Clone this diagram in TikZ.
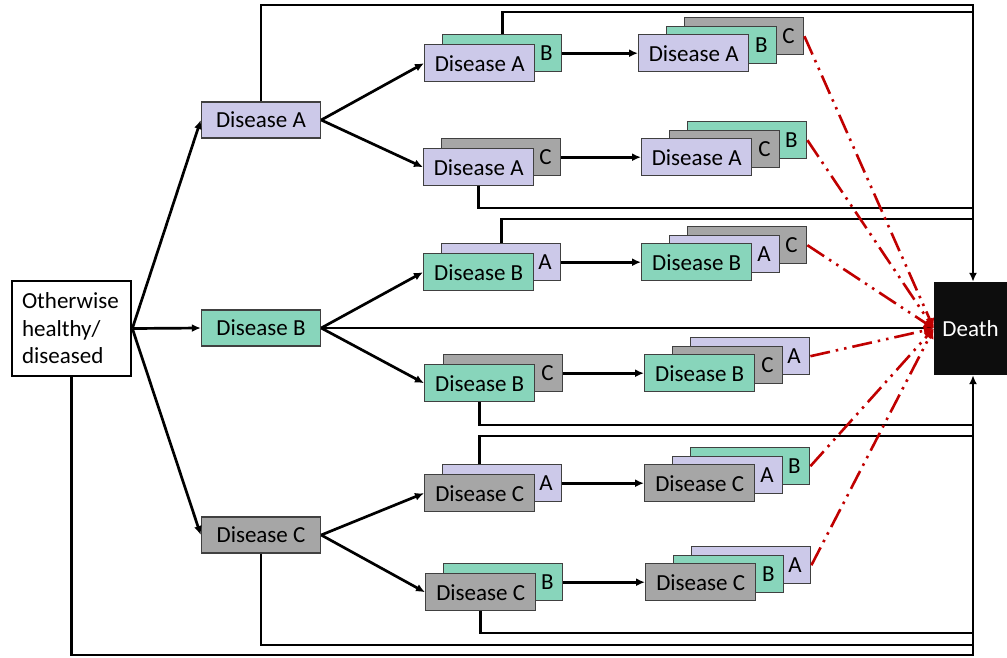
\documentclass[tikz,border=0pt]{standalone}
\usepackage{fontspec}
\setmainfont{Carlito}
\usetikzlibrary{arrows.meta}
\definecolor{disA}{HTML}{CCC9E9}
\definecolor{disB}{HTML}{88D5BB}
\definecolor{disC}{HTML}{A6A6A6}
\definecolor{edge}{HTML}{404040}
\definecolor{fatal}{HTML}{C00000}
\newcommand{\boxfont}{\fontsize{23}{27.5}\selectfont}

\begin{document}
\begin{tikzpicture}[x=1pt,y=-1pt,
  box/.style={draw=edge, line width=1.4pt, minimum width=110pt, minimum height=37pt, inner sep=0pt, anchor=north west, font=\boxfont},
  bx/.style={box, text width=101pt, inner xsep=9pt, align=right},
  mx/.style={box, text width=92pt, inner xsep=9pt, align=right},
  lvl/.style={box, minimum width=119pt, minimum height=36pt, anchor=center},
  wire/.style={line width=2.7pt},
  arr/.style={wire, -{Latex[length=9pt,width=8pt]}},
  fat/.style={draw=fatal, line width=2.6pt, dash pattern=on 20pt off 6pt on 2.5pt off 6pt on 2.5pt off 6pt, -{Latex[length=10pt,width=10pt]}}]
\useasboundingbox (0,0) rectangle (1007,657);
\node[draw, line width=2.7pt, fill=white, text width=99pt, inner xsep=10pt, minimum height=95pt, align=left, font=\boxfont] (S) at (71.5,328.5) {Otherwise\\healthy/\\diseased};
\node[fill=black!95, text=white, minimum width=73pt, minimum height=93pt, font=\boxfont] (D) at (970.5,328.5) {Death};
% first disease
\node[lvl, fill=disA] (A) at (261,120) {Disease A};
\node[lvl, fill=disB] (B) at (261,328) {Disease B};
\node[lvl, fill=disC] (C) at (261,535) {Disease C};
% second disease
\node[bx, fill=disB] (ABx) at (442,34)  {B};
\node[box, fill=disA] (AB) at (424,44)  {Disease A};
\node[bx, fill=disC] (ACx) at (441,138) {C};
\node[box, fill=disA] (AC) at (423,148) {Disease A};
\node[bx, fill=disA] (BAx) at (441,243) {A};
\node[box, fill=disB] (BA) at (423,253) {Disease B};
\node[bx, fill=disC] (BCx) at (443,354) {C};
\node[box, fill=disB] (BC) at (424,364) {Disease B};
\node[bx, fill=disA] (CAx) at (442,464) {A};
\node[box, fill=disC] (CA) at (424,474) {Disease C};
\node[bx, fill=disB] (CBx) at (443,563) {B};
\node[box, fill=disC] (CB) at (425,573) {Disease C};
% third disease
\node[bx, fill=disC] (ABCx) at (684,17) {C};
\node[mx, fill=disB] (ABCm) at (666,26) {B};
\node[box, fill=disA] (ABC) at (638,34) {Disease A};
\node[bx, fill=disB] (ACBx) at (687,121) {B};
\node[mx, fill=disC] (ACBm) at (669,130) {C};
\node[box, fill=disA] (ACB) at (641,138) {Disease A};
\node[bx, fill=disC] (BACx) at (687,226) {C};
\node[mx, fill=disA] (BACm) at (669,235) {A};
\node[box, fill=disB] (BAC) at (641,243) {Disease B};
\node[bx, fill=disA] (BCAx) at (690,337) {A};
\node[mx, fill=disC] (BCAm) at (672,346) {C};
\node[box, fill=disB] (BCA) at (644,354) {Disease B};
\node[bx, fill=disB] (CABx) at (690,447) {B};
\node[mx, fill=disA] (CABm) at (672,456) {A};
\node[box, fill=disC] (CAB) at (644,464) {Disease C};
\node[bx, fill=disA] (CBAx) at (691,546) {A};
\node[mx, fill=disB] (CBAm) at (673,555) {B};
\node[box, fill=disC] (CBA) at (645,563) {Disease C};
% rail into death
\foreach \i/\y in {1/5,2/12,3/208,4/219,5/425,6/436,7/633,8/645,9/655}
  \coordinate (R\i) at (973,\y);
\draw[arr] (S.east) -- (A.west); \draw[arr] (S.east) -- (B.west); \draw[arr] (S.east) -- (C.west);
\draw[arr] (A.east) -- (AB.west); \draw[arr] (A.east) -- (AC.west);
\draw[arr] (B.east) -- (BA.west); \draw[arr] (B.east) -- (BC.west);
\draw[arr] (C.east) -- (CA.west); \draw[arr] (C.east) -- (CB.west);
\draw[arr] (ABx.east) -- (ABC.west); \draw[arr] (ACx.east) -- (ACB.west);
\draw[arr] (BAx.east) -- (BAC.west); \draw[arr] (BCx.east) -- (BCA.west);
\draw[arr] (CAx.east) -- (CAB.west); \draw[arr] (CBx.east) -- (CBA.west);
\draw[arr] (A.north) |- (R1) -- (R1 |- D.north);
\draw[wire] (ABx.north) |- (R2);
\draw[wire] (AC.south) |- (R3);
\draw[wire] (BAx.north) |- (R4);
\draw[arr] (B.east) -- (B.east -| D.west);
\draw[wire] (BC.south) |- (R5);
\draw[wire] (CA.north |- CAx.north) |- (R6);
\draw[wire] (CB.south) |- (R7);
\draw[wire] (C.south) |- (R8);
\draw[arr] (S.south) |- (R9) -- (R9 |- D.south);
% fatal transitions
\draw[fat] (ABCx.east) -- (D.west); \draw[fat] (ACBx.east) -- (D.west);
\draw[fat] (BACx.east) -- (D.west); \draw[fat] (BCAx.east) -- (D.west);
\draw[fat] (CABx.east) -- (D.west); \draw[fat] (CBAx.east) -- (D.west);
\end{tikzpicture}
\end{document}
